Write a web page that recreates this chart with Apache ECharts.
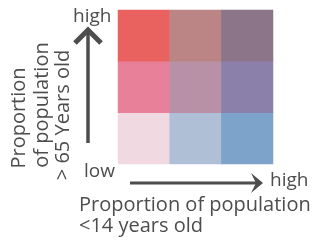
<!DOCTYPE html>
<html>
<head>
<meta charset="utf-8">
<script src="https://cdn.jsdelivr.net/npm/echarts@6/dist/echarts.min.js"></script>
<style>
html, body { margin: 0; padding: 0; background: #fff; }
#main { width: 313px; height: 241px; }
</style>
</head>
<body>
<div id="main"></div>
<script>
// bivariate classes: x = share < 14 years, y = share > 65 years
var youngClasses = ['low', 'mid', 'high'];
var oldClasses = ['low', 'mid', 'high'];
// colours row by row, bottom (low old) to top (high old)
var cellColors = [
    ['#f1d9e1', '#afc0d6', '#7ea3cb'],
    ['#e8809a', '#b891a6', '#8a80aa'],
    ['#e9625f', '#ba8584', '#8c7489']
];
var axisLow = 'low';
var axisHigh = 'high';
var xTitle = ['Proportion of population', '<14 years old'];
var yTitle = ['Proportion', 'of population', '> 65 Years old'];

var cells = [];
oldClasses.forEach(function (o, yi) {
    youngClasses.forEach(function (c, xi) {
        cells.push({ value: [xi, yi, yi * 3 + xi], itemStyle: { color: cellColors[yi][xi] } });
    });
});

var txtColor = '#4d4d4d';
var font = '"Open Sans", "Noto Sans", sans-serif';
var myChart = echarts.init(document.getElementById('main'));
var option = {
    animation: false,
    grid: { left: 118, right: 40, top: 10, bottom: 77 },
    xAxis: { type: 'category', data: youngClasses, show: false },
    yAxis: { type: 'category', data: oldClasses, show: false },
    series: [{
        type: 'heatmap',
        data: cells,
        label: { show: false }
    }],
    graphic: [
        // vertical arrow
        { type: 'line', shape: { x1: 88, y1: 143, x2: 88, y2: 32 }, style: { stroke: txtColor, lineWidth: 3.5 } },
        { type: 'polyline', shape: { points: [[75, 43], [88, 30], [101, 43]] }, style: { stroke: txtColor, lineWidth: 5, fill: null } },
        // horizontal arrow
        { type: 'line', shape: { x1: 130, y1: 183, x2: 258, y2: 183 }, style: { stroke: txtColor, lineWidth: 3 } },
        { type: 'polygon', shape: { points: [[251, 173], [263, 183], [251, 193], [256, 183]] }, style: { fill: txtColor } },
        { type: 'text', left: 73, top: 7, style: { text: axisHigh, font: '19px ' + font, fill: txtColor } },
        { type: 'text', left: 84, top: 162, style: { text: axisLow, font: '19px ' + font, fill: txtColor } },
        { type: 'text', left: 270, top: 171, style: { text: axisHigh, font: '19px ' + font, fill: txtColor } },
        { type: 'text', left: 79, top: 195, style: { text: xTitle[0], font: '20px ' + font, fill: txtColor } },
        { type: 'text', left: 79, top: 216, style: { text: xTitle[1], font: '20px ' + font, fill: txtColor } },
        { type: 'text', x: 19, y: 118, rotation: Math.PI / 2, style: { text: yTitle[0], font: '20px ' + font, fill: txtColor, align: 'center', verticalAlign: 'middle' } },
        { type: 'text', x: 42, y: 105, rotation: Math.PI / 2, style: { text: yTitle[1], font: '20px ' + font, fill: txtColor, align: 'center', verticalAlign: 'middle' } },
        { type: 'text', x: 63, y: 115, rotation: Math.PI / 2, style: { text: yTitle[2], font: '20px ' + font, fill: txtColor, align: 'center', verticalAlign: 'middle' } }
    ]
};
myChart.setOption(option);
</script>
</body>
</html>
